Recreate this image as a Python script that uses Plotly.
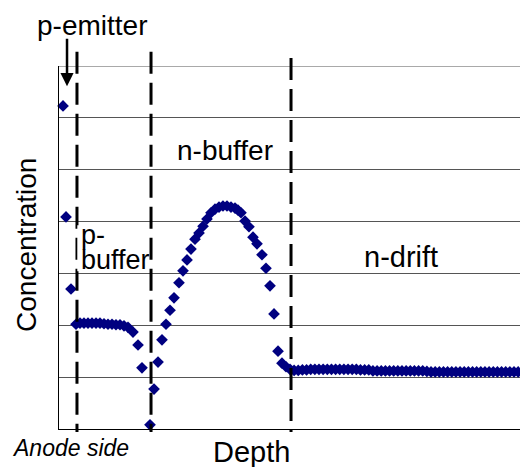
import plotly.graph_objects as go

# Doping profile samples: depth (arbitrary units, 0-100) and concentration (arbitrary, 0-7)
depth = [
    0.87, 1.52, 2.60,
    3.69, 4.56, 5.42, 6.29, 7.16, 8.03, 8.89, 9.76, 10.63, 11.50, 12.36, 13.23, 14.10, 14.97, 16.05,
    17.14, 18.00, 19.74,
    20.61, 21.48, 22.34, 23.21, 24.08, 24.95, 26.03, 26.90, 27.77, 28.63, 29.50, 30.37, 31.24, 32.10,
    32.97, 33.84, 34.71, 35.57, 36.44, 37.31, 38.18, 38.83, 39.48, 40.35, 41.21, 42.08, 42.95, 44.03,
    44.90, 45.77, 46.64, 47.51, 48.37, 49.24, 50.11,
    51.0, 51.9, 52.8, 53.7, 54.6, 55.5, 56.4, 57.3, 58.2, 59.1, 60.0, 60.9, 61.8, 62.7, 63.6, 64.5,
    65.4, 66.3, 67.2, 68.1, 69.0, 69.9, 70.8, 71.7, 72.6, 73.5, 74.4, 75.3, 76.2, 77.1, 78.0, 78.9,
    79.8, 80.7, 81.6, 82.5, 83.4, 84.3, 85.2, 86.1, 87.0, 87.9, 88.8, 89.7, 90.6, 91.5, 92.4, 93.3,
    94.2, 95.1, 96.0, 96.9, 97.8, 98.7, 99.6,
]
concentration = [
    6.23, 4.09, 2.70,
    2.02, 2.04, 2.04, 2.04, 2.04, 2.04, 2.04, 2.03, 2.02, 2.02, 2.01, 2.01, 1.99, 1.96, 1.87,
    1.62, 1.18, 0.08,
    0.77, 1.29, 1.72, 2.02, 2.29, 2.53, 2.82, 3.05, 3.26, 3.47, 3.66, 3.78, 3.91, 4.05,
    4.17, 4.24, 4.28, 4.30, 4.30, 4.28, 4.26, 4.22, 4.17, 4.01, 3.90, 3.70, 3.57, 3.36,
    3.10, 2.76, 2.22, 1.50, 1.27, 1.20, 1.15,
    1.13, 1.13, 1.14, 1.14, 1.15, 1.15, 1.15, 1.15, 1.15, 1.15, 1.15, 1.15, 1.15, 1.15, 1.15, 1.15,
    1.14, 1.14, 1.14, 1.12, 1.12, 1.12, 1.12, 1.12, 1.12, 1.12, 1.12, 1.12, 1.12, 1.12, 1.12, 1.12,
    1.11, 1.10, 1.10, 1.10, 1.10, 1.10, 1.10, 1.10, 1.10, 1.10, 1.10, 1.10, 1.10, 1.10, 1.10, 1.10,
    1.10, 1.10, 1.10, 1.10, 1.10, 1.10, 1.10,
]

# Depths of the region boundaries (emitter/p-buffer, p-buffer/n-buffer, n-buffer/n-drift)
boundaries = [3.90, 19.96, 50.33]
boundary_tops = [1.039, 1.039, 1.022]   # paper fraction where each dashed line starts

Y_MAX = 7
FONT = "Liberation Sans, Arial, sans-serif"

fig = go.Figure()
fig.add_trace(go.Scatter(
    x=depth, y=concentration, mode="markers",
    marker=dict(symbol="diamond", size=9, color="#000080", line=dict(width=0)),
    cliponaxis=False, showlegend=False,
))

# top grid line at the upper end of the axis range
fig.add_shape(type="line", xref="paper", yref="y", x0=0, x1=1, y0=Y_MAX, y1=Y_MAX,
              line=dict(color="#555555", width=1), layer="below")

for xb, top in zip(boundaries, boundary_tops):
    fig.add_shape(type="line", xref="x", yref="paper", x0=xb, x1=xb, y0=top, y1=-0.008,
                  line=dict(color="black", width=3, dash="22px,9px"))

# white label box behind the p-buffer text, covering most of the first boundary line
fig.add_shape(type="rect", xref="x", yref="y", x0=3.97, x1=19.3, y0=3.04, y1=3.93,
              fillcolor="white", line=dict(width=0))

labels = [
    dict(text="n-buffer", x=36.1, y=5.38, xanchor="center", size=28),
    dict(text="n-drift", x=74.1, y=3.31, xanchor="center", size=29),
    dict(text="p-", x=4.30, y=3.75, xanchor="left", size=27),
    dict(text="buffer", x=4.30, y=3.25, xanchor="left", size=27),
]
for lb in labels:
    fig.add_annotation(text=lb["text"], x=lb["x"], y=lb["y"], xref="x", yref="y",
                       xanchor=lb["xanchor"], yanchor="middle", showarrow=False,
                       font=dict(family=FONT, size=lb["size"], color="black"))

# p-emitter label and its arrow
fig.add_annotation(text="p-emitter", xref="paper", yref="paper", x=0.0705, y=1.112,
                   xanchor="center", yanchor="middle", showarrow=False,
                   font=dict(family=FONT, size=28, color="black"))
fig.add_annotation(text="", x=1.74, y=6.61, xref="x", yref="y", ax=0, ay=-49,
                   showarrow=True, arrowhead=2, arrowsize=1.05, arrowwidth=2.5,
                   arrowcolor="black")

# axis titles
fig.add_annotation(text="Depth", xref="paper", yref="paper", x=0.4176, y=-0.0634,
                   xanchor="center", yanchor="middle", showarrow=False,
                   font=dict(family=FONT, size=29, color="black"))
fig.add_annotation(text="Concentration", xref="paper", yref="paper", x=-0.0694, y=0.507,
                   xanchor="center", yanchor="middle", showarrow=False, textangle=-90,
                   font=dict(family=FONT, size=28, color="black"))
fig.add_annotation(text="<i>Anode side</i>", xref="paper", yref="paper", x=0.0239, y=-0.051,
                   xanchor="center", yanchor="middle", showarrow=False,
                   font=dict(family=FONT, size=23, color="black"))

fig.update_layout(
    width=520, height=467,
    margin=dict(l=59, r=0, t=66, b=38),
    paper_bgcolor="white", plot_bgcolor="white",
    xaxis=dict(range=[0, 100], showgrid=False, zeroline=False, showticklabels=False,
               ticks="", showline=True, linecolor="black", linewidth=1),
    yaxis=dict(range=[0, Y_MAX], dtick=1, showgrid=True, gridcolor="#555555", gridwidth=1,
               zeroline=False, showticklabels=False, ticks="",
               showline=True, linecolor="black", linewidth=1),
)

fig.write_html("out.html")
